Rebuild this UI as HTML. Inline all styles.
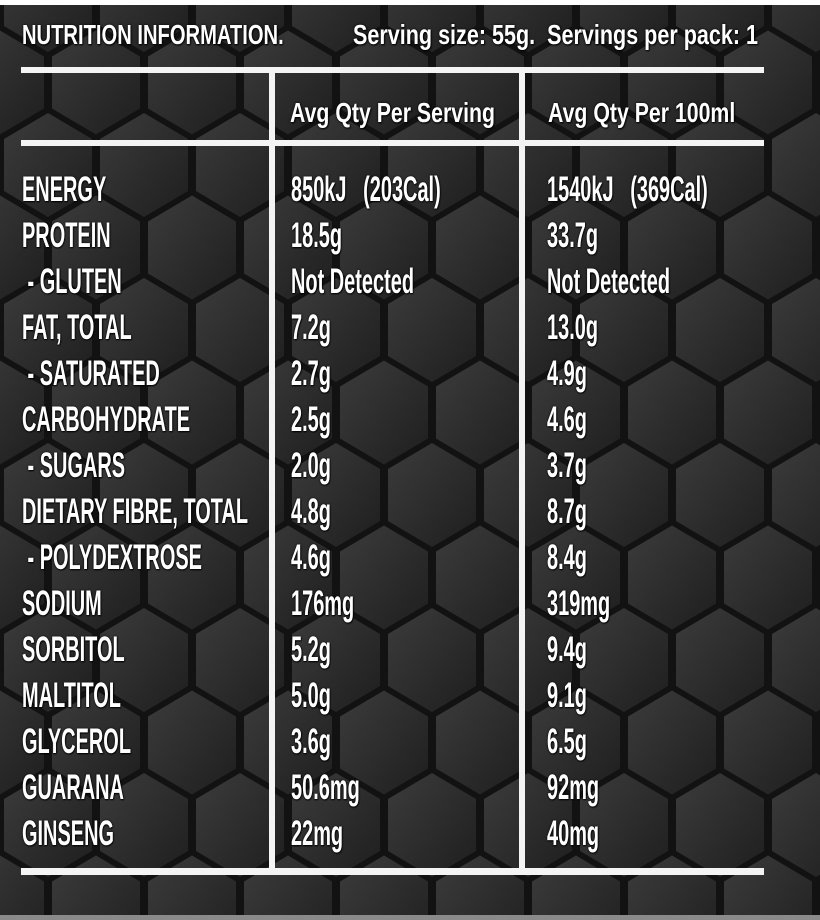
<!DOCTYPE html>
<html><head><style>
html,body{margin:0;padding:0;}
body{width:820px;height:920px;position:relative;overflow:hidden;background:#262626;font-family:"Liberation Sans Narrow","Liberation Sans",sans-serif;font-weight:bold;color:#fff;}
svg.bg{position:absolute;left:0;top:0;}
.t{position:absolute;white-space:nowrap;transform-origin:0 50%;text-shadow:0 0 3px #000,1px 1px 2px #000;}
.r{font-size:35px;transform:scaleX(0.57);line-height:40px;}
.h{font-size:28px;transform:scaleX(0.72);line-height:34px;}
.ln{position:absolute;background:#f4f4f4;}
</style></head><body>
<svg class="bg" width="820" height="920">
<defs>
<linearGradient id="g" x1="0" y1="0" x2="1" y2="1">
<stop offset="0" stop-color="#3c3c3c"/><stop offset="1" stop-color="#1e1e1e"/>
</linearGradient>
<polygon id="h" points="0,-52 44,-26 44,26 0,52 -44,26 -44,-26" fill="url(#g)"/>
<pattern id="hx" width="96" height="165" patternUnits="userSpaceOnUse">
<rect width="96" height="165" fill="#121212"/>
<use href="#h" x="48" y="0"/>
<use href="#h" x="48" y="165"/>
<use href="#h" x="0" y="82.5"/>
<use href="#h" x="96" y="82.5"/>
</pattern>
</defs>
<rect width="820" height="920" fill="url(#hx)"/>
<rect y="0" width="820" height="5" fill="#fff"/>
<rect y="915" width="820" height="5" fill="#8a8a8a"/>
</svg>
<div class="ln" style="left:21px;top:67px;width:743px;height:6px"></div>
<div class="ln" style="left:21px;top:140px;width:743px;height:6px"></div>
<div class="ln" style="left:21px;top:868px;width:743px;height:7px"></div>
<div class="ln" style="left:269px;top:67px;width:6px;height:805px"></div>
<div class="ln" style="left:519px;top:67px;width:6px;height:805px"></div>

<div class="t h" style="left:22px;top:18px">NUTRITION INFORMATION.</div>
<div class="t h" style="left:353px;top:18px;transform:scaleX(0.77)">Serving size: 55g.&nbsp; Servings per pack: 1</div>
<div class="t h" style="left:290px;top:96px;transform:scaleX(0.76)">Avg Qty Per Serving</div>
<div class="t h" style="left:548px;top:96px;transform:scaleX(0.76)">Avg Qty Per 100ml</div>

<div class="t r" style="left:22px;top:170px">ENERGY</div><div class="t r" style="left:291px;top:170px">850kJ&nbsp;&nbsp; (203Cal)</div><div class="t r" style="left:547px;top:170px">1540kJ&nbsp;&nbsp; (369Cal)</div>
<div class="t r" style="left:22px;top:216px">PROTEIN</div><div class="t r" style="left:291px;top:216px">18.5g</div><div class="t r" style="left:547px;top:216px">33.7g</div>
<div class="t r" style="left:22px;top:262px">&nbsp;- GLUTEN</div><div class="t r" style="left:291px;top:262px">Not Detected</div><div class="t r" style="left:547px;top:262px">Not Detected</div>
<div class="t r" style="left:22px;top:308px">FAT, TOTAL</div><div class="t r" style="left:291px;top:308px">7.2g</div><div class="t r" style="left:547px;top:308px">13.0g</div>
<div class="t r" style="left:22px;top:354px">&nbsp;- SATURATED</div><div class="t r" style="left:291px;top:354px">2.7g</div><div class="t r" style="left:547px;top:354px">4.9g</div>
<div class="t r" style="left:22px;top:400px">CARBOHYDRATE</div><div class="t r" style="left:291px;top:400px">2.5g</div><div class="t r" style="left:547px;top:400px">4.6g</div>
<div class="t r" style="left:22px;top:446px">&nbsp;- SUGARS</div><div class="t r" style="left:291px;top:446px">2.0g</div><div class="t r" style="left:547px;top:446px">3.7g</div>
<div class="t r" style="left:22px;top:492px">DIETARY FIBRE, TOTAL</div><div class="t r" style="left:291px;top:492px">4.8g</div><div class="t r" style="left:547px;top:492px">8.7g</div>
<div class="t r" style="left:22px;top:538px">&nbsp;- POLYDEXTROSE</div><div class="t r" style="left:291px;top:538px">4.6g</div><div class="t r" style="left:547px;top:538px">8.4g</div>
<div class="t r" style="left:22px;top:584px">SODIUM</div><div class="t r" style="left:291px;top:584px">176mg</div><div class="t r" style="left:547px;top:584px">319mg</div>
<div class="t r" style="left:22px;top:630px">SORBITOL</div><div class="t r" style="left:291px;top:630px">5.2g</div><div class="t r" style="left:547px;top:630px">9.4g</div>
<div class="t r" style="left:22px;top:676px">MALTITOL</div><div class="t r" style="left:291px;top:676px">5.0g</div><div class="t r" style="left:547px;top:676px">9.1g</div>
<div class="t r" style="left:22px;top:722px">GLYCEROL</div><div class="t r" style="left:291px;top:722px">3.6g</div><div class="t r" style="left:547px;top:722px">6.5g</div>
<div class="t r" style="left:22px;top:768px">GUARANA</div><div class="t r" style="left:291px;top:768px">50.6mg</div><div class="t r" style="left:547px;top:768px">92mg</div>
<div class="t r" style="left:22px;top:814px">GINSENG</div><div class="t r" style="left:291px;top:814px">22mg</div><div class="t r" style="left:547px;top:814px">40mg</div>
</body></html>
